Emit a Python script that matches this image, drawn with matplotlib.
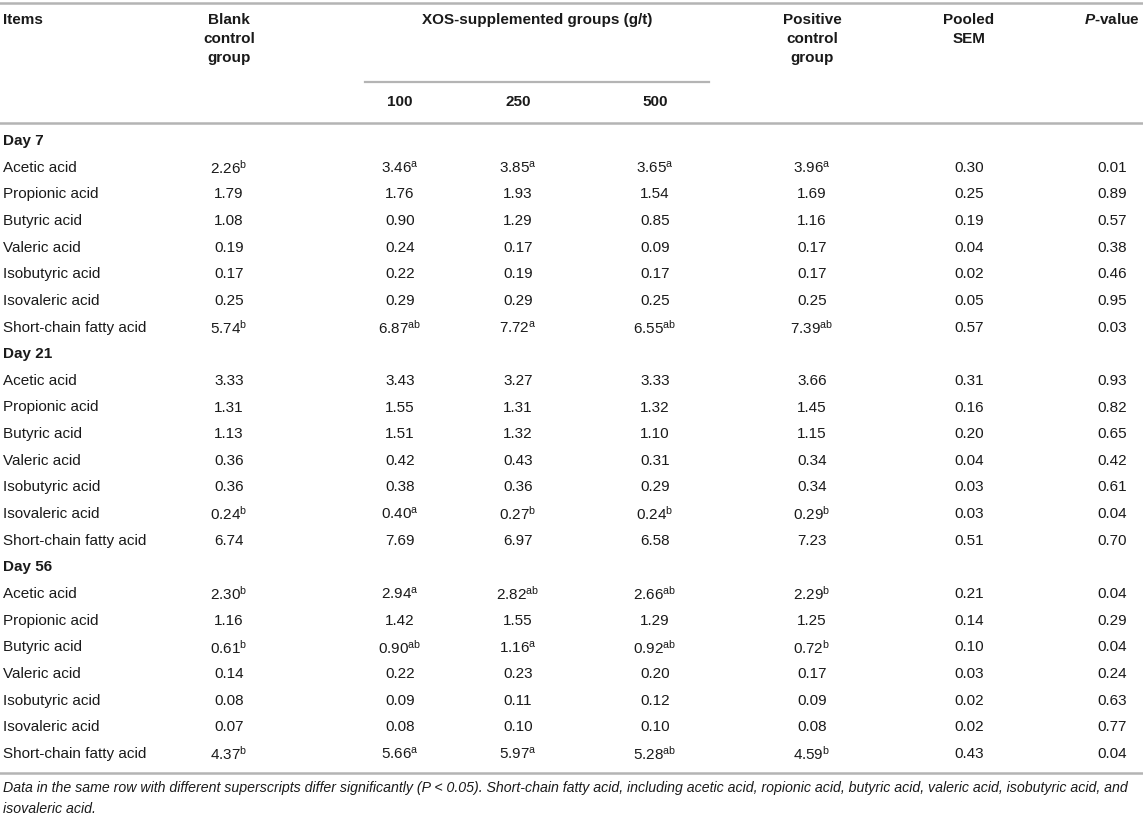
import matplotlib
matplotlib.use("Agg")
import matplotlib.pyplot as plt

plt.rcParams['font.family'] = ['Liberation Sans', 'DejaVu Sans']
plt.rcParams['mathtext.fontset'] = 'custom'
plt.rcParams['mathtext.rm'] = 'Liberation Sans'
plt.rcParams['mathtext.it'] = 'Liberation Sans:italic'
plt.rcParams['mathtext.bf'] = 'Liberation Sans:bold'
plt.rcParams['mathtext.bfit'] = 'Liberation Sans:italic:bold'
plt.rcParams['mathtext.default'] = 'regular'

# table content
days = ["Day 7", "Day 21", "Day 56"]
items = ["Acetic acid", "Propionic acid", "Butyric acid", "Valeric acid",
         "Isobutyric acid", "Isovaleric acid", "Short-chain fatty acid"]
xos_doses = ["100", "250", "500"]

# one list per column, 7 rows per day (Day 7, Day 21, Day 56)
blank = ["2.26", "1.79", "1.08", "0.19", "0.17", "0.25", "5.74",
         "3.33", "1.31", "1.13", "0.36", "0.36", "0.24", "6.74",
         "2.30", "1.16", "0.61", "0.14", "0.08", "0.07", "4.37"]
blank_sup = ["b", "", "", "", "", "", "b",
             "", "", "", "", "", "b", "",
             "b", "", "b", "", "", "", "b"]
xos100 = ["3.46", "1.76", "0.90", "0.24", "0.22", "0.29", "6.87",
          "3.43", "1.55", "1.51", "0.42", "0.38", "0.40", "7.69",
          "2.94", "1.42", "0.90", "0.22", "0.09", "0.08", "5.66"]
xos100_sup = ["a", "", "", "", "", "", "ab",
              "", "", "", "", "", "a", "",
              "a", "", "ab", "", "", "", "a"]
xos250 = ["3.85", "1.93", "1.29", "0.17", "0.19", "0.29", "7.72",
          "3.27", "1.31", "1.32", "0.43", "0.36", "0.27", "6.97",
          "2.82", "1.55", "1.16", "0.23", "0.11", "0.10", "5.97"]
xos250_sup = ["a", "", "", "", "", "", "a",
              "", "", "", "", "", "b", "",
              "ab", "", "a", "", "", "", "a"]
xos500 = ["3.65", "1.54", "0.85", "0.09", "0.17", "0.25", "6.55",
          "3.33", "1.32", "1.10", "0.31", "0.29", "0.24", "6.58",
          "2.66", "1.29", "0.92", "0.20", "0.12", "0.10", "5.28"]
xos500_sup = ["a", "", "", "", "", "", "ab",
              "", "", "", "", "", "b", "",
              "ab", "", "ab", "", "", "", "ab"]
positive = ["3.96", "1.69", "1.16", "0.17", "0.17", "0.25", "7.39",
            "3.66", "1.45", "1.15", "0.34", "0.34", "0.29", "7.23",
            "2.29", "1.25", "0.72", "0.17", "0.09", "0.08", "4.59"]
positive_sup = ["a", "", "", "", "", "", "ab",
                "", "", "", "", "", "b", "",
                "b", "", "b", "", "", "", "b"]
pooled_sem = ["0.30", "0.25", "0.19", "0.04", "0.02", "0.05", "0.57",
              "0.31", "0.16", "0.20", "0.04", "0.03", "0.03", "0.51",
              "0.21", "0.14", "0.10", "0.03", "0.02", "0.02", "0.43"]
p_value = ["0.01", "0.89", "0.57", "0.38", "0.46", "0.95", "0.03",
           "0.93", "0.82", "0.65", "0.42", "0.61", "0.04", "0.70",
           "0.04", "0.29", "0.04", "0.24", "0.63", "0.77", "0.04"]

footnote = ("Data in the same row with different superscripts differ significantly (P < 0.05). "
            "Short-chain fatty acid, including acetic acid, ropionic acid, butyric acid, valeric acid, "
            "isobutyric acid, and\nisovaleric acid.")

W, H = 1143, 819
fig = plt.figure(figsize=(W / 100, H / 100), dpi=100)
ax = fig.add_axes([0, 0, 1, 1])
ax.set_xlim(0, W)
ax.set_ylim(H, 0)
ax.axis('off')

fs = 11
line_col = '#b4b4b4'
text_col = '#1a1a1a'

# column centres
x_items = 3
x_blank = 229
x_dose = [400, 518, 655]
x_pos = 812
x_sem = 969
x_p = 1112


def cell(x, y, val, sup):
    s = val + (r"$^{%s}$" % sup if sup else "")
    ax.text(x, y, s, ha='center', va='center', fontsize=fs, color=text_col)


# rules
ax.plot([0, W], [3, 3], color=line_col, lw=1.8)
ax.plot([365, 709], [82, 82], color=line_col, lw=1.6)
ax.plot([0, W], [123, 123], color=line_col, lw=1.8)
ax.plot([0, W], [773, 773], color=line_col, lw=1.8)

# header
hk = dict(fontsize=fs, fontweight='bold', color=text_col, va='center')
ax.text(x_items, 20, "Items", ha='left', **hk)
for k, word in enumerate(["Blank", "control", "group"]):
    ax.text(x_blank, 20 + 19 * k, word, ha='center', **hk)
ax.text(537, 20, "XOS-supplemented groups (g/t)", ha='center', **hk)
for k, word in enumerate(["Positive", "control", "group"]):
    ax.text(x_pos, 20 + 19 * k, word, ha='center', **hk)
for k, word in enumerate(["Pooled", "SEM"]):
    ax.text(x_sem, 20 + 19 * k, word, ha='center', **hk)
ax.text(x_p, 20, r"$\mathbfit{P}$-value", ha='center', **hk)
for xd, dose in zip(x_dose, xos_doses):
    ax.text(xd, 102, dose, ha='center', **hk)

# body
y0 = 141
dy = 26.65
row = 0
for d, day in enumerate(days):
    y = y0 + dy * row
    ax.text(x_items, y, day, ha='left', va='center', fontsize=fs, fontweight='bold', color=text_col)
    row += 1
    for i, item in enumerate(items):
        y = y0 + dy * row
        j = d * len(items) + i
        ax.text(x_items, y, item, ha='left', va='center', fontsize=fs, color=text_col)
        cell(x_blank, y, blank[j], blank_sup[j])
        cell(x_dose[0], y, xos100[j], xos100_sup[j])
        cell(x_dose[1], y, xos250[j], xos250_sup[j])
        cell(x_dose[2], y, xos500[j], xos500_sup[j])
        cell(x_pos, y, positive[j], positive_sup[j])
        cell(x_sem, y, pooled_sem[j], "")
        cell(x_p, y, p_value[j], "")
        row += 1

ax.text(x_items, 798.5, footnote, ha='left', va='center', fontsize=10.2, style='italic',
        color=text_col, linespacing=1.62)

fig.savefig("out.png", dpi=100)
